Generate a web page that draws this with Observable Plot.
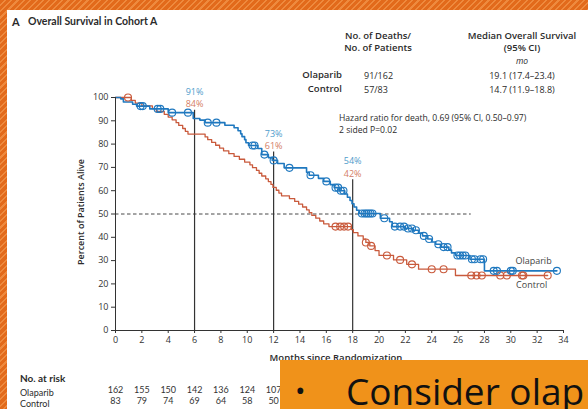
<!DOCTYPE html>
<html>
<head>
<meta charset="utf-8">
<script src="https://cdn.jsdelivr.net/npm/d3@7"></script>
<script src="https://cdn.jsdelivr.net/npm/@observablehq/plot@0.6"></script>
<style>
  html, body { margin: 0; padding: 0; background: #fff; }
  #page { position: relative; width: 588px; height: 409px; overflow: hidden;
    background: repeating-linear-gradient(135deg, #e26a1b 0px, #e26a1b 3px, #ee8a3e 3px, #ee8a3e 4.5px); }
  #panel { position: absolute; left: 7px; top: 10px; right: 0; bottom: 0; background: #fff; }
  #chart { position: absolute; left: 0; top: 0; width: 588px; height: 409px; }
  .t { position: absolute; font-family: "Open Sans", sans-serif; color: #2b2b2b; white-space: nowrap; line-height: 1; transform: translateY(-50%); }
  .lt { font-family: Lato, sans-serif; }
  .b { font-weight: 700; }
  .sb { font-weight: 600; }
  .c { transform: translate(-50%, -50%); text-align: center; }
  .r { transform: translate(-100%, -50%); text-align: right; }
  #box { position: absolute; left: 280px; top: 360px; width: 308px; height: 49px; background: #f0921a; overflow: hidden; }
  #box .bul { position: absolute; left: 15px; top: 16px; font-family: "Open Sans", sans-serif; font-size: 28px; line-height: 28px; color: #111; }
  #box .txt { position: absolute; left: 66px; top: 12px; font-family: "Open Sans", sans-serif; font-size: 37px; line-height: 37px; color: #111; white-space: nowrap; }
</style>
</head>
<body>
<div id="page">
  <div id="panel"></div>
  <div id="chart"></div>

  <div class="t b lt" style="left:12px; top:21px; font-size:11px;">A</div>
  <div class="t b lt" style="left:28px; top:21px; font-size:10.5px;">Overall Survival in Cohort A</div>

  <div class="t sb c" style="left:378px; top:36px; font-size:9.5px;">No. of Deaths/</div>
  <div class="t sb c" style="left:378px; top:48px; font-size:9.5px;">No. of Patients</div>
  <div class="t sb c" style="left:522px; top:36px; font-size:9.5px;">Median Overall Survival</div>
  <div class="t sb c" style="left:522px; top:48px; font-size:9.5px;">(95% CI)</div>
  <div class="t c" style="left:522px; top:61px; font-size:8.5px; font-style:italic;">mo</div>

  <div class="t sb r" style="left:342px; top:75px; font-size:9.5px;">Olaparib</div>
  <div class="t" style="left:364px; top:75px; font-size:9px;">91/162</div>
  <div class="t c" style="left:522px; top:75px; font-size:9px;">19.1 (17.4–23.4)</div>
  <div class="t sb r" style="left:342px; top:89px; font-size:9.5px;">Control</div>
  <div class="t" style="left:364px; top:89px; font-size:9px;">57/83</div>
  <div class="t c" style="left:522px; top:89px; font-size:9px;">14.7 (11.9–18.8)</div>

  <div class="t" style="left:339px; top:118px; font-size:8.6px;">Hazard ratio for death, 0.69 (95% CI, 0.50–0.97)</div>
  <div class="t" style="left:339px; top:130px; font-size:8.6px;">2 sided P=0.02</div>

  <div class="t sb" style="left:80px; top:212px; font-size:9px; transform: translate(-50%, -50%) rotate(-90deg);">Percent of Patients Alive</div>
  <div class="t sb c" style="left:336px; top:358px; font-size:9.5px;">Months since Randomization</div>

  <div class="t b lt" style="left:20px; top:378px; font-size:10px;">No. at risk</div>
  <div class="t lt" style="left:20px; top:392px; font-size:9px;">Olaparib</div>
  <div class="t lt" style="left:20px; top:403px; font-size:9px;">Control</div>

  <div id="box"><span class="bul">•</span><span class="txt">Consider olap</span></div>
</div>

<script>
// ---------- data ----------
const xTicks = [0, 2, 4, 6, 8, 10, 12, 14, 16, 18, 20, 22, 24, 26, 28, 30, 32, 34];
const yTicks = [0, 10, 20, 30, 40, 50, 60, 70, 80, 90, 100];

// Olaparib Kaplan-Meier steps (month, % alive after the step)
const olapTimes = [0, 0.4, 0.6, 1.3, 1.6, 2.6, 4.0, 5.9, 6.4, 6.8, 8.3, 9.0, 9.3, 9.5, 9.6, 9.8, 9.9, 10.1, 10.8, 11.1, 11.6, 11.9, 12.3, 12.8, 14.5, 14.7, 15.4, 15.8, 16.3, 16.6, 17.0, 17.4, 17.6, 17.8, 17.95, 18.1, 18.3, 18.5, 20.1, 20.8, 21.0, 22.0, 22.6, 23.0, 23.3, 23.7, 24.0, 24.3, 24.7, 25.3, 25.5, 25.8, 26.9, 28.0];
const olapSurv  = [100, 99.4, 98.1, 97.1, 96.3, 95.1, 93.5, 91.0, 90.3, 89.2, 88.1, 87.0, 85.7, 84.4, 83.2, 81.9, 80.6, 79.4, 78.1, 75.5, 74.2, 73.0, 71.7, 69.8, 67.9, 66.6, 65.3, 64.0, 62.6, 61.3, 60.0, 58.6, 57.2, 55.8, 54.4, 53.0, 51.6, 50.2, 48.2, 46.7, 44.6, 43.8, 43.0, 41.8, 40.6, 39.3, 38.0, 37.0, 35.8, 34.5, 33.3, 32.2, 30.6, 25.6];
const olapEnd = 33.5;
const olapCensor = [1.9, 2.07, 3.2, 3.4, 4.3, 5.5, 7.0, 7.66, 10.4, 10.55, 11.3, 12.0, 13.2, 14.8, 16.0, 16.7, 16.9, 17.1, 17.3, 18.7, 18.9, 19.05, 19.2, 19.35, 19.5, 20.4, 21.2, 21.6, 21.9, 22.2, 22.5, 22.8, 23.4, 23.8, 24.5, 24.9, 25.2, 25.95, 26.15, 26.35, 26.55, 27.05, 27.25, 27.7, 27.9, 28.7, 28.95, 30.0, 30.15, 33.5];

// Control Kaplan-Meier steps
const ctrlTimes = [0, 1.2, 1.5, 2.0, 2.8, 3.1, 3.7, 4.0, 4.3, 4.6, 4.8, 5.1, 5.3, 5.5, 6.8, 7.0, 7.3, 7.6, 7.9, 8.2, 8.6, 9.0, 9.4, 9.8, 10.2, 10.4, 10.7, 10.9, 11.1, 11.4, 11.6, 11.8, 11.95, 12.2, 12.4, 12.6, 13.2, 13.6, 13.9, 14.2, 14.5, 14.7, 14.9, 15.2, 15.5, 15.8, 16.2, 17.9, 18.05, 18.4, 18.8, 19.0, 19.3, 19.7, 20.0, 21.1, 22.1, 23.0, 25.8];
const ctrlSurv  = [100, 98.8, 97.6, 96.4, 95.2, 94.0, 92.8, 91.6, 90.4, 89.2, 88.0, 86.7, 85.5, 84.3, 83.1, 81.9, 80.7, 79.5, 78.3, 77.1, 75.9, 74.7, 73.5, 72.3, 71.1, 69.9, 68.7, 67.5, 66.3, 65.1, 63.9, 62.7, 61.4, 60.2, 59.0, 57.8, 56.6, 55.4, 54.2, 53.0, 51.8, 50.6, 49.4, 48.2, 47.0, 45.8, 44.6, 43.3, 42.0, 40.6, 39.2, 37.8, 36.3, 34.3, 32.2, 30.3, 28.4, 26.3, 23.6];
const ctrlEnd = 32.8;
const ctrlCensor = [0.95, 16.7, 17.05, 17.35, 17.65, 19.0, 19.4, 20.6, 21.6, 22.5, 24.0, 24.9, 27.0, 27.4, 27.8, 29.2, 29.7, 30.85, 30.95, 32.8];

// landmark survival estimates
const landmarkMonths = [6, 12, 18];
const olapLandmark = [91, 73, 54];
const ctrlLandmark = [84, 61, 42];

// number at risk (visible columns)
const riskMonths = [0, 2, 4, 6, 8, 10, 12];
const olapRisk = [162, 155, 150, 142, 136, 124, 107];
const ctrlRisk = [83, 79, 74, 69, 64, 58, 50];

const medianLine = 50;
const seriesNames = ["Olaparib", "Control"];

// ---------- layout / style ----------
const BLUE = "#1f78bf", RED = "#c95a3c";
const BLUE_LBL = "#4f9ccb", RED_LBL = "#d47e66";
const lblOlapY = [102.4, 84.5, 72.8];   // label placement (y units)
const lblCtrlY = [97.1, 79.2, 67.3];

function steps(times, surv, end) {
  const rows = times.map((t, i) => ({m: t, s: surv[i]}));
  rows.push({m: end, s: surv[surv.length - 1]});
  return rows;
}
function valueAt(times, surv, t) {
  let v = surv[0];
  for (let i = 0; i < times.length; i++) if (times[i] <= t) v = surv[i];
  return v;
}
const olapLine = steps(olapTimes, olapSurv, olapEnd);
const ctrlLine = steps(ctrlTimes, ctrlSurv, ctrlEnd);
const olapDots = olapCensor.map(t => ({m: t, s: valueAt(olapTimes, olapSurv, t)}));
const ctrlDots = ctrlCensor.map(t => ({m: t, s: valueAt(ctrlTimes, ctrlSurv, t)}));
const landmarks = landmarkMonths.map((m, i) => ({m, o: olapLandmark[i], c: ctrlLandmark[i], oy: lblOlapY[i], cy: lblCtrlY[i]}));
const risk = riskMonths.map((m, i) => ({m, o: olapRisk[i], c: ctrlRisk[i]}));

const chart = Plot.plot({
  width: 588, height: 409,
  marginLeft: 115, marginRight: 25, marginTop: 97, marginBottom: 79,
  style: {background: "none", fontFamily: "Open Sans, sans-serif", fontSize: "9px", color: "#333"},
  x: {domain: [0, 34]},
  y: {domain: [0, 100]},
  marks: [
    Plot.ruleY([medianLine], {x1: 0, x2: 27, stroke: "#333", strokeWidth: 0.9, strokeDasharray: "3.5,2.5"}),
    Plot.ruleX(landmarks, {x: "m", y1: "cy", y2: 0, insetTop: 6, stroke: "#333", strokeWidth: 1.2}),
    Plot.line(ctrlLine, {x: "m", y: "s", curve: "step-after", stroke: RED, strokeWidth: 1.3}),
    Plot.line(olapLine, {x: "m", y: "s", curve: "step-after", stroke: BLUE, strokeWidth: 1.6}),
    Plot.dot(ctrlDots, {x: "m", y: "s", r: 3.5, stroke: RED, strokeWidth: 1.1, fill: "none"}),
    Plot.dot(olapDots, {x: "m", y: "s", r: 3.5, stroke: BLUE, strokeWidth: 1.1, fill: "none"}),
    Plot.text(landmarks, {x: "m", y: "oy", text: d => d.o + "%", fill: BLUE_LBL, fontSize: 9}),
    Plot.text(landmarks, {x: "m", y: "cy", text: d => d.c + "%", fill: RED_LBL, fontSize: 9}),
    Plot.text([seriesNames[0]], {x: 30.35, y: 29.8, text: d => d, textAnchor: "start", fill: "#444", fontSize: 9}),
    Plot.text([seriesNames[1]], {x: 30.4, y: 19.3, text: d => d, textAnchor: "start", fill: "#444", fontSize: 9}),
    Plot.ruleX([0], {y1: 0, y2: 100, stroke: "#333", strokeWidth: 1}),
    Plot.ruleY([0], {x1: 0, x2: 34, stroke: "#333", strokeWidth: 1}),
    Plot.axisY({ticks: yTicks, tickSize: 4, tickPadding: 3, label: null, stroke: "#333"}),
    Plot.axisX({ticks: xTicks, tickSize: 3, tickPadding: 3, label: null, stroke: "#333"}),
    Plot.text(risk, {x: "m", frameAnchor: "bottom", dy: 62, text: "o", fill: "#333", fontSize: 9, fontFamily: "Lato"}),
    Plot.text(risk, {x: "m", frameAnchor: "bottom", dy: 73, text: "c", fill: "#333", fontSize: 9, fontFamily: "Lato"})
  ]
});
document.getElementById("chart").appendChild(chart);
</script>
</body>
</html>
